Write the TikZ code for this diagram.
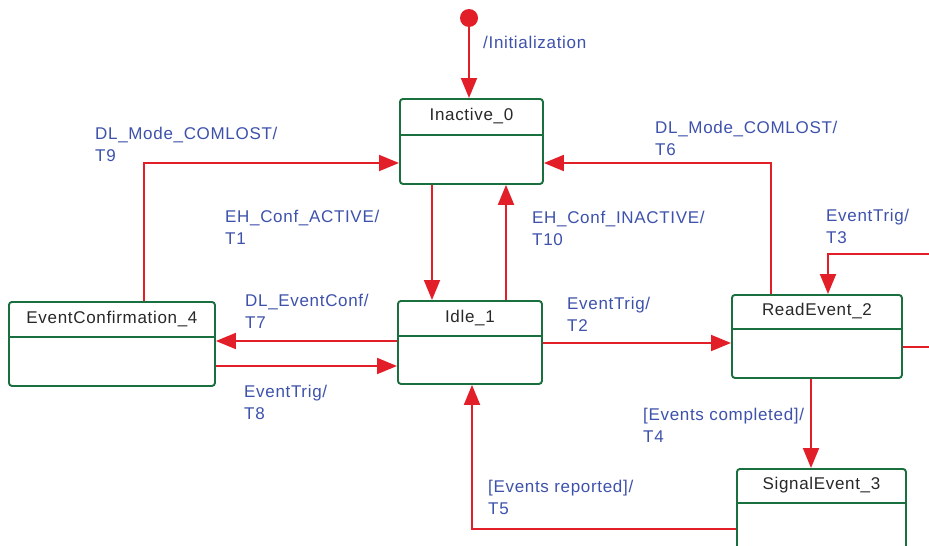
\documentclass[tikz,border=0pt]{standalone}
\usepackage{fontspec}
\setmainfont{Liberation Sans}
\newfontfamily\dgfont[LetterSpace=4]{Liberation Sans}
\usetikzlibrary{arrows.meta,calc}
\definecolor{lblue}{RGB}{62,82,172}
\definecolor{sgreen}{RGB}{25,112,62}
\definecolor{ared}{RGB}{226,30,40}
\definecolor{txt}{RGB}{40,40,40}
\begin{document}
\begin{tikzpicture}[x=1pt,y=-1pt,
 state/.style={draw=sgreen, line width=1.9pt, rounded corners=3pt, inner sep=0, anchor=north west},
 divider/.style={draw=sgreen, line width=1.9pt},
 arr/.style={draw=ared, line width=1.9pt, -{Triangle[length=20pt,width=16pt]}},
 ln/.style={draw=ared, line width=1.9pt},
 lbl/.style={text=lblue, font=\dgfont\fontsize{17}{22}\selectfont, anchor=north west, align=left, inner sep=0},
 ttl/.style={text=txt, font=\dgfont\fontsize{17}{20}\selectfont, inner sep=0}]
\fill[white] (0,0) rectangle (929,546);
\useasboundingbox (0,0) rectangle (929,546);
\clip (0,0) rectangle (929,546);

% states
\node[state, minimum width=143pt, minimum height=85pt] (inactive) at (399,98) {};
\node[state, minimum width=144pt, minimum height=83pt] (idle) at (397,300) {};
\node[state, minimum width=206pt, minimum height=84pt] (ec) at (8,301) {};
\node[state, minimum width=170pt, minimum height=83pt] (read) at (731,294) {};
\node[state, minimum width=169pt, minimum height=100pt] (signal) at (736,468) {};

\draw[divider] ($(inactive.north west)+(0,37)$) -- ($(inactive.north east)+(0,37)$);
\draw[divider] ($(idle.north west)+(0,36)$) -- ($(idle.north east)+(0,36)$);
\draw[divider] ($(ec.north west)+(0,36)$) -- ($(ec.north east)+(0,36)$);
\draw[divider] ($(read.north west)+(0,35)$) -- ($(read.north east)+(0,35)$);
\draw[divider] ($(signal.north west)+(0,35)$) -- ($(signal.north east)+(0,35)$);

\node[ttl] (tinactive) at ($(inactive.north)+(0,18)$) {Inactive\_0};
\node[ttl] (tidle) at ($(idle.north)+(0,18)$) {Idle\_1};
\node[ttl] (tec) at ($(ec.north)+(0,18)$) {EventConfirmation\_4};
\node[ttl] (tread) at ($(read.north)+(0,17)$) {ReadEvent\_2};
\node[ttl] (tsignal) at ($(signal.north)+(0,17)$) {SignalEvent\_3};

% initial state
\node[circle, fill=ared, minimum size=18pt, inner sep=0] (init) at (469,18) {};

% free ends at the picture edge
\coordinate (t3start) at (929,254);
\coordinate (readout) at (929,347);

% connectors
\draw[arr] (init) -- (inactive.north -| init);
\draw[arr] ($(inactive.south west)+(33,0)$) -- ($(idle.north west)+(35,0)$);
\draw[arr] ($(idle.north west)+(109,0)$) -- ($(inactive.south west)+(107,0)$);
\draw[arr] ($(ec.north west)+(136,0)$) |- ($(inactive.north west)+(0,65)$);
\draw[arr] ($(read.north west)+(40,0)$) |- ($(inactive.north east)+(0,65)$);
\draw[arr] ($(idle.north west)+(0,41)$) -- ($(ec.north east)+(0,40)$);
\draw[arr] ($(ec.north east)+(0,65)$) -- ($(idle.north west)+(0,66)$);
\draw[arr] ($(idle.north east)+(0,43)$) -- ($(read.north west)+(0,49)$);
\draw[arr] (t3start) -| ($(read.north west)+(97,0)$);
\draw[ln] ($(read.north east)+(0,53)$) -- (readout);
\draw[arr] ($(read.south west)+(80,0)$) -- ($(signal.north west)+(75,0)$);
\draw[arr] ($(signal.north west)+(0,61)$) -| ($(idle.south west)+(75,0)$);

% labels
\node[lbl] (linit) at (483,36) {/Initialization};
\node[lbl] (l9) at (95,127) {DL\_Mode\_COMLOST/\\T9};
\node[lbl] (l1) at (225,210) {EH\_Conf\_ACTIVE/\\T1};
\node[lbl] (l10) at (532,211) {EH\_Conf\_INACTIVE/\\T10};
\node[lbl] (l6) at (655,121) {DL\_Mode\_COMLOST/\\T6};
\node[lbl] (l3) at (826,209) {EventTrig/\\T3};
\node[lbl] (l7) at (245,294) {DL\_EventConf/\\T7};
\node[lbl] (l2) at (567,297) {EventTrig/\\T2};
\node[lbl] (l8) at (244,385) {EventTrig/\\T8};
\node[lbl] (l4) at (643,408) {[Events completed]/\\T4};
\node[lbl] (l5) at (488,480) {[Events reported]/\\T5};
\end{tikzpicture}
\end{document}
